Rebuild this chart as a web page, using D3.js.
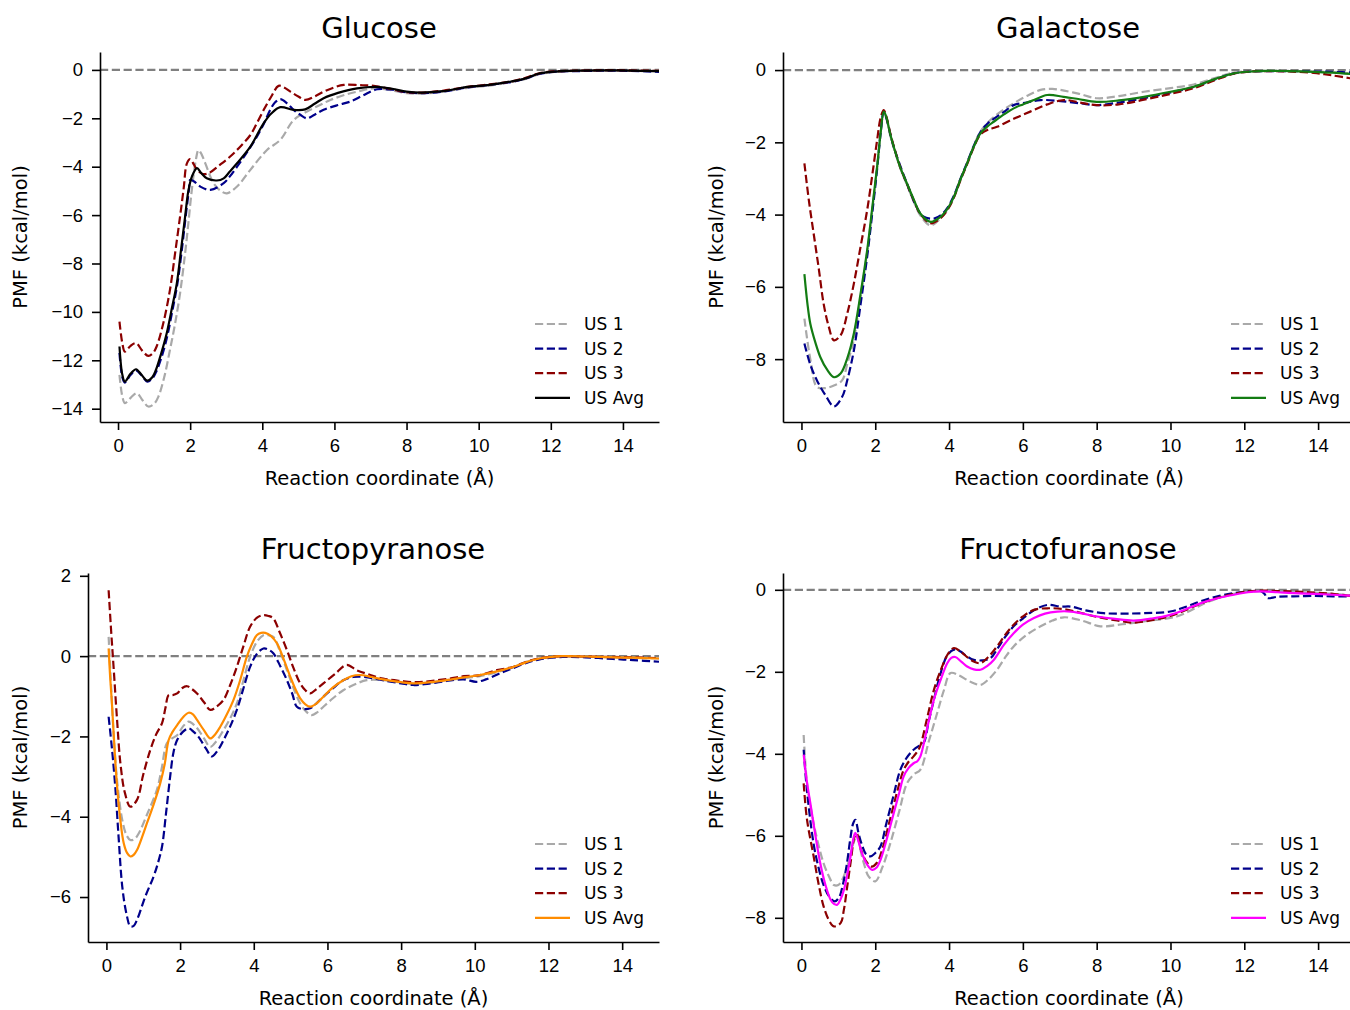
<!DOCTYPE html>
<html lang="en">
  <head>
    <meta charset="UTF-8" />
    <title>PMF curves</title>
    <style>
      body {
        margin: 0;
        background: #fff;
      }
      svg {
        display: block;
        font-family: "DejaVu Sans", sans-serif;
      }
      .axis path,
      .axis line {
        stroke: #000;
        stroke-width: 1.6;
      }
      .axis text {
        font-size: 18.5px;
        fill: #000;
      }
      .title {
        font-size: 29px;
      }
      .label {
        font-size: 19.5px;
      }
      .legend text {
        font-size: 17px;
      }
    </style>
    <script src="https://cdn.jsdelivr.net/npm/d3@7"></script>
  </head>
  <body>
    <div class="container"></div>
    <script>
      // ---- data ----
      const xTicks = [0, 2, 4, 6, 8, 10, 12, 14];
      const seriesNames = ["US 1", "US 2", "US 3", "US Avg"];

      const glucoseUS1 = [[0.04,-12.6],[0.12,-13.5],[0.19,-13.77],[0.35,-13.55],[0.52,-13.36],[0.68,-13.65],[0.84,-13.91],[1.0,-13.8],[1.12,-13.5],[1.28,-12.7],[1.44,-11.57],[1.58,-10.5],[1.72,-9.23],[1.85,-7.7],[1.95,-6.34],[2.02,-5.3],[2.09,-4.41],[2.16,-3.7],[2.23,-3.31],[2.32,-3.5],[2.42,-3.86],[2.65,-4.68],[2.85,-5.0],[3.02,-5.1],[3.3,-4.82],[3.67,-4.13],[4.13,-3.31],[4.5,-2.89],[4.87,-2.07],[5.24,-1.72],[5.6,-1.45],[5.89,-1.24],[6.25,-1.05],[6.63,-0.9],[7.09,-0.76],[7.6,-0.85],[8.0,-0.96],[8.4,-0.98],[9.0,-0.9],[9.7,-0.74],[10.3,-0.65],[10.9,-0.5],[11.3,-0.37],[11.7,-0.17],[12.2,-0.08],[12.7,-0.04],[13.5,-0.03],[14.2,-0.04],[15,-0.06]];
      const glucoseUS2 = [[0.04,-11.7],[0.12,-12.7],[0.19,-12.92],[0.35,-12.6],[0.5,-12.42],[0.65,-12.62],[0.81,-12.88],[0.95,-12.75],[1.05,-12.5],[1.2,-11.9],[1.35,-11.1],[1.5,-10.0],[1.65,-8.8],[1.78,-7.3],[1.88,-6.0],[1.97,-4.9],[2.0,-4.55],[2.1,-4.6],[2.28,-4.82],[2.56,-4.96],[2.93,-4.68],[3.1,-4.4],[3.3,-4.0],[3.6,-3.35],[3.85,-2.76],[4.05,-2.2],[4.22,-1.65],[4.35,-1.35],[4.5,-1.21],[4.7,-1.4],[4.87,-1.65],[5.05,-1.85],[5.24,-2.0],[5.45,-1.85],[5.7,-1.65],[6.1,-1.45],[6.44,-1.31],[6.8,-1.05],[7.19,-0.8],[7.6,-0.82],[8.0,-0.93],[8.4,-0.96],[9.0,-0.9],[9.7,-0.72],[10.3,-0.62],[10.9,-0.5],[11.3,-0.36],[11.7,-0.16],[12.2,-0.07],[12.7,-0.05],[13.5,-0.03],[14.2,-0.04],[15,-0.08]];
      const glucoseUS3 = [[0.04,-10.4],[0.12,-11.3],[0.19,-11.64],[0.35,-11.4],[0.5,-11.29],[0.67,-11.6],[0.84,-11.82],[0.97,-11.7],[1.07,-11.43],[1.25,-10.5],[1.44,-9.09],[1.58,-7.6],[1.72,-6.06],[1.82,-4.9],[1.91,-3.86],[2.0,-3.69],[2.1,-3.9],[2.19,-4.13],[2.35,-4.3],[2.51,-4.27],[2.8,-3.95],[3.11,-3.58],[3.4,-3.15],[3.67,-2.69],[3.85,-2.2],[4.04,-1.65],[4.25,-1.1],[4.45,-0.66],[4.6,-0.72],[4.78,-0.9],[5.0,-1.1],[5.19,-1.24],[5.45,-1.1],[5.7,-0.9],[6.0,-0.72],[6.26,-0.62],[6.7,-0.63],[7.09,-0.66],[7.6,-0.8],[8.0,-0.92],[8.4,-0.94],[9.0,-0.86],[9.7,-0.7],[10.3,-0.6],[10.9,-0.48],[11.3,-0.33],[11.7,-0.13],[12.2,-0.05],[12.7,-0.03],[13.5,-0.01],[14.2,-0.02],[15,-0.04]];
      const glucoseAvg = [[0.04,-11.43],[0.12,-12.6],[0.19,-12.88],[0.35,-12.55],[0.5,-12.37],[0.65,-12.6],[0.81,-12.84],[0.95,-12.7],[1.05,-12.4],[1.2,-11.7],[1.35,-10.88],[1.5,-9.8],[1.63,-8.82],[1.75,-7.4],[1.86,-6.06],[1.95,-5.0],[2.05,-4.4],[2.19,-4.06],[2.3,-4.25],[2.46,-4.48],[2.74,-4.57],[2.93,-4.48],[3.1,-4.2],[3.3,-3.86],[3.67,-3.17],[3.85,-2.7],[4.04,-2.2],[4.25,-1.8],[4.5,-1.54],[4.87,-1.65],[5.19,-1.63],[5.45,-1.4],[5.7,-1.17],[6.1,-0.95],[6.63,-0.76],[7.19,-0.7],[7.6,-0.78],[8.0,-0.9],[8.4,-0.94],[9.0,-0.88],[9.7,-0.7],[10.3,-0.62],[10.9,-0.48],[11.3,-0.35],[11.7,-0.14],[12.2,-0.06],[12.7,-0.03],[13.5,-0.02],[14.2,-0.03],[15,-0.05]];

      const galactoseUS1 = [[0.08,-6.88],[0.24,-8.0],[0.42,-8.77],[0.65,-8.8],[0.88,-8.73],[1.1,-8.59],[1.25,-8.1],[1.42,-7.45],[1.6,-6.3],[1.78,-5.05],[1.92,-3.85],[2.05,-2.7],[2.15,-1.72],[2.23,-1.17],[2.3,-1.32],[2.4,-1.78],[2.5,-2.15],[2.68,-2.72],[2.86,-3.18],[3.05,-3.65],[3.22,-4.02],[3.5,-4.3],[3.77,-4.1],[3.95,-3.88],[4.13,-3.52],[4.3,-3.05],[4.49,-2.57],[4.67,-2.1],[4.85,-1.7],[5.05,-1.45],[5.21,-1.3],[5.5,-1.08],[5.75,-0.92],[6.1,-0.72],[6.48,-0.55],[6.8,-0.52],[7.02,-0.55],[7.5,-0.65],[8.01,-0.78],[8.6,-0.72],[9.28,-0.6],[10.0,-0.5],[10.63,-0.4],[11.2,-0.22],[11.72,-0.07],[12.2,-0.03],[12.62,-0.02],[13.2,-0.02],[13.88,-0.04],[14.4,-0.06],[15,-0.1]];
      const galactoseUS2 = [[0.08,-7.57],[0.24,-8.15],[0.42,-8.59],[0.65,-9.0],[0.88,-9.31],[1.1,-9.05],[1.25,-8.55],[1.42,-7.76],[1.6,-6.5],[1.78,-5.17],[1.92,-3.95],[2.05,-2.75],[2.15,-1.7],[2.23,-1.15],[2.32,-1.4],[2.45,-1.95],[2.59,-2.4],[2.75,-2.85],[2.9,-3.25],[3.1,-3.75],[3.3,-4.05],[3.59,-4.11],[3.8,-4.0],[3.95,-3.82],[4.13,-3.48],[4.3,-3.03],[4.49,-2.56],[4.67,-2.1],[4.85,-1.72],[5.05,-1.47],[5.21,-1.35],[5.5,-1.15],[5.75,-0.97],[6.1,-0.9],[6.48,-0.83],[7.02,-0.86],[7.56,-0.92],[8.0,-0.97],[8.6,-0.9],[9.28,-0.78],[10.0,-0.62],[10.63,-0.47],[11.2,-0.26],[11.72,-0.09],[12.2,-0.04],[12.62,-0.03],[13.2,-0.03],[13.88,-0.04],[14.4,-0.05],[15,-0.07]];
      const galactoseUS3 = [[0.08,-2.58],[0.2,-3.6],[0.33,-4.52],[0.47,-5.5],[0.6,-6.46],[0.74,-7.1],[0.88,-7.48],[1.06,-7.34],[1.25,-6.7],[1.42,-5.91],[1.6,-4.9],[1.78,-3.88],[1.92,-2.9],[2.05,-1.94],[2.15,-1.3],[2.23,-1.11],[2.3,-1.28],[2.4,-1.72],[2.5,-2.1],[2.68,-2.7],[2.86,-3.15],[3.05,-3.62],[3.22,-3.98],[3.5,-4.24],[3.77,-4.1],[3.95,-3.88],[4.13,-3.53],[4.3,-3.07],[4.49,-2.6],[4.67,-2.14],[4.85,-1.78],[5.05,-1.65],[5.3,-1.57],[5.75,-1.35],[6.2,-1.15],[6.66,-0.95],[7.11,-0.83],[7.56,-0.9],[8.0,-0.97],[8.6,-0.95],[9.28,-0.82],[10.0,-0.66],[10.63,-0.5],[11.2,-0.28],[11.72,-0.1],[12.2,-0.04],[12.62,-0.03],[13.2,-0.04],[13.88,-0.08],[14.4,-0.15],[15,-0.25]];
      const galactoseAvg = [[0.08,-5.65],[0.16,-6.45],[0.24,-7.02],[0.38,-7.55],[0.51,-7.94],[0.7,-8.3],[0.88,-8.5],[1.06,-8.4],[1.25,-7.95],[1.42,-7.29],[1.6,-6.2],[1.78,-4.99],[1.92,-3.8],[2.05,-2.68],[2.15,-1.7],[2.23,-1.15],[2.3,-1.3],[2.4,-1.75],[2.5,-2.12],[2.68,-2.7],[2.86,-3.14],[3.05,-3.6],[3.22,-3.97],[3.5,-4.2],[3.77,-4.06],[3.95,-3.85],[4.13,-3.51],[4.3,-3.05],[4.49,-2.58],[4.67,-2.12],[4.85,-1.75],[5.05,-1.55],[5.21,-1.43],[5.5,-1.22],[5.75,-1.06],[6.0,-0.95],[6.3,-0.83],[6.66,-0.69],[7.1,-0.74],[7.5,-0.8],[8.0,-0.88],[8.6,-0.84],[9.28,-0.74],[10.0,-0.6],[10.63,-0.46],[11.2,-0.25],[11.72,-0.09],[12.2,-0.04],[12.62,-0.02],[13.2,-0.03],[13.88,-0.05],[14.4,-0.07],[15,-0.12]];

      const pyranoseUS1 = [[0.06,0.48],[0.13,-0.8],[0.2,-2.01],[0.3,-3.2],[0.43,-4.08],[0.54,-4.45],[0.65,-4.58],[0.77,-4.55],[0.88,-4.41],[1.1,-3.95],[1.37,-3.33],[1.5,-2.8],[1.64,-2.17],[1.78,-2.05],[1.92,-1.97],[2.08,-1.75],[2.23,-1.63],[2.36,-1.7],[2.5,-1.84],[2.65,-2.05],[2.82,-2.26],[3.0,-2.1],[3.18,-1.84],[3.36,-1.55],[3.54,-1.18],[3.72,-0.6],[3.9,-0.02],[4.08,0.35],[4.26,0.52],[4.4,0.52],[4.53,0.48],[4.72,0.1],[4.9,-0.35],[5.08,-0.8],[5.26,-1.18],[5.42,-1.38],[5.57,-1.47],[5.72,-1.4],[5.89,-1.26],[6.15,-1.05],[6.43,-0.85],[6.75,-0.7],[7.07,-0.6],[7.51,-0.6],[8.0,-0.66],[8.33,-0.69],[8.8,-0.66],[9.23,-0.6],[9.7,-0.55],[10.14,-0.5],[10.6,-0.4],[11.04,-0.28],[11.4,-0.15],[11.76,-0.06],[12.39,-0.01],[13.0,-0.02],[13.75,-0.03],[14.3,-0.04],[15,-0.06]];
      const pyranoseUS2 = [[0.06,-1.51],[0.15,-2.3],[0.24,-3.25],[0.33,-4.5],[0.43,-5.74],[0.54,-6.4],[0.65,-6.73],[0.74,-6.72],[0.83,-6.57],[1.05,-6.0],[1.28,-5.49],[1.4,-5.15],[1.51,-4.74],[1.62,-3.9],[1.73,-3.0],[1.82,-2.4],[1.92,-2.09],[2.08,-1.88],[2.23,-1.8],[2.36,-1.88],[2.5,-2.01],[2.7,-2.3],[2.86,-2.5],[3.02,-2.35],[3.18,-2.09],[3.36,-1.75],[3.54,-1.34],[3.72,-0.8],[3.9,-0.27],[4.08,0.05],[4.26,0.19],[4.4,0.16],[4.53,0.07],[4.72,-0.25],[4.9,-0.6],[5.05,-0.95],[5.17,-1.26],[5.35,-1.32],[5.53,-1.3],[5.7,-1.18],[5.89,-1.01],[6.15,-0.8],[6.43,-0.6],[6.7,-0.52],[7.0,-0.52],[7.5,-0.6],[8.0,-0.68],[8.33,-0.72],[8.8,-0.68],[9.23,-0.62],[9.7,-0.58],[10.04,-0.64],[10.3,-0.58],[10.7,-0.42],[11.04,-0.3],[11.4,-0.17],[11.76,-0.08],[12.39,-0.02],[13.0,-0.03],[13.75,-0.07],[14.3,-0.1],[15,-0.14]];
      const pyranoseUS3 = [[0.06,1.64],[0.13,0.6],[0.2,-0.35],[0.29,-1.6],[0.38,-2.67],[0.5,-3.4],[0.65,-3.75],[0.83,-3.58],[1.0,-2.95],[1.19,-2.34],[1.35,-1.95],[1.51,-1.67],[1.6,-1.3],[1.69,-0.97],[1.8,-0.97],[1.92,-0.93],[2.05,-0.8],[2.19,-0.75],[2.32,-0.82],[2.46,-0.93],[2.65,-1.15],[2.82,-1.34],[3.0,-1.25],[3.18,-1.09],[3.36,-0.72],[3.54,-0.27],[3.72,0.25],[3.9,0.73],[4.08,0.95],[4.26,1.02],[4.4,1.0],[4.53,0.94],[4.7,0.6],[4.9,0.15],[5.08,-0.3],[5.26,-0.68],[5.4,-0.85],[5.53,-0.93],[5.7,-0.82],[5.89,-0.68],[6.2,-0.45],[6.52,-0.22],[6.79,-0.35],[7.1,-0.45],[7.51,-0.56],[8.0,-0.62],[8.4,-0.65],[8.8,-0.62],[9.3,-0.56],[9.7,-0.5],[10.1,-0.48],[10.6,-0.35],[11.04,-0.27],[11.4,-0.14],[11.76,-0.05],[12.39,0],[13.0,-0.01],[13.75,-0.02],[14.3,-0.03],[15,-0.05]];
      const pyranoseAvg = [[0.06,0.19],[0.1,-0.5],[0.15,-1.18],[0.22,-2.3],[0.29,-3.25],[0.38,-4.1],[0.47,-4.66],[0.56,-4.9],[0.65,-4.99],[0.74,-4.95],[0.83,-4.83],[0.97,-4.5],[1.1,-4.16],[1.28,-3.7],[1.46,-3.17],[1.58,-2.7],[1.69,-2.09],[1.8,-1.88],[1.92,-1.72],[2.08,-1.52],[2.23,-1.41],[2.35,-1.45],[2.46,-1.59],[2.65,-1.85],[2.82,-2.05],[2.95,-1.95],[3.09,-1.76],[3.27,-1.45],[3.45,-1.09],[3.63,-0.6],[3.81,-0.02],[3.95,0.3],[4.08,0.52],[4.2,0.58],[4.31,0.58],[4.47,0.5],[4.63,0.32],[4.8,-0.05],[4.99,-0.51],[5.13,-0.82],[5.26,-1.05],[5.4,-1.2],[5.53,-1.26],[5.7,-1.18],[5.89,-1.01],[6.15,-0.78],[6.43,-0.6],[6.65,-0.5],[6.88,-0.47],[7.2,-0.52],[7.5,-0.58],[8.0,-0.65],[8.33,-0.68],[8.8,-0.65],[9.23,-0.6],[9.7,-0.53],[10.14,-0.47],[10.6,-0.38],[11.04,-0.27],[11.4,-0.15],[11.76,-0.06],[12.39,0],[13.0,-0.01],[13.75,-0.03],[14.3,-0.04],[15,-0.06]];

      const furanoseUS1 = [[0.06,-3.54],[0.15,-4.7],[0.33,-5.69],[0.47,-6.25],[0.6,-6.67],[0.74,-6.98],[0.88,-7.2],[1.0,-7.2],[1.1,-7.08],[1.24,-6.75],[1.37,-6.3],[1.44,-6.1],[1.51,-6.02],[1.6,-6.35],[1.7,-6.7],[1.82,-6.99],[2.0,-7.11],[2.2,-6.75],[2.41,-6.18],[2.65,-5.4],[2.86,-4.72],[3.05,-4.5],[3.22,-4.39],[3.45,-3.7],[3.68,-3.0],[3.86,-2.45],[4.04,-2.03],[4.25,-2.08],[4.49,-2.2],[4.67,-2.28],[4.85,-2.32],[5.05,-2.2],[5.3,-1.95],[5.52,-1.65],[5.75,-1.38],[6.1,-1.1],[6.48,-0.89],[6.8,-0.75],[7.11,-0.67],[7.6,-0.75],[8.1,-0.89],[8.7,-0.84],[9.28,-0.77],[10.17,-0.65],[10.6,-0.48],[10.9,-0.34],[11.3,-0.2],[11.72,-0.1],[12.1,-0.05],[12.44,-0.03],[12.9,-0.04],[13.34,-0.05],[13.9,-0.07],[14.4,-0.1],[15,-0.14]];
      const furanoseUS2 = [[0.06,-3.9],[0.15,-4.9],[0.33,-6.2],[0.47,-6.8],[0.6,-7.2],[0.75,-7.48],[0.9,-7.6],[1.02,-7.5],[1.12,-7.2],[1.22,-6.75],[1.32,-6.1],[1.4,-5.7],[1.46,-5.61],[1.55,-5.95],[1.65,-6.25],[1.75,-6.45],[1.87,-6.5],[2.0,-6.42],[2.14,-6.26],[2.3,-5.7],[2.5,-5.0],[2.68,-4.39],[2.85,-4.1],[3.04,-3.9],[3.2,-3.8],[3.31,-3.74],[3.45,-3.2],[3.59,-2.68],[3.75,-2.1],[3.95,-1.6],[4.13,-1.46],[4.3,-1.5],[4.48,-1.62],[4.67,-1.71],[4.9,-1.72],[5.12,-1.67],[5.3,-1.45],[5.52,-1.15],[5.75,-0.89],[6.0,-0.7],[6.3,-0.5],[6.66,-0.37],[7.02,-0.41],[7.3,-0.41],[7.7,-0.5],[8.19,-0.57],[8.7,-0.58],[9.28,-0.57],[9.99,-0.53],[10.4,-0.42],[10.81,-0.28],[11.3,-0.15],[11.72,-0.08],[12.1,-0.04],[12.44,-0.03],[12.55,-0.1],[12.62,-0.2],[12.9,-0.17],[13.34,-0.16],[13.9,-0.15],[14.4,-0.16],[15,-0.16]];
      const furanoseUS3 = [[0.06,-4.72],[0.15,-5.6],[0.33,-6.5],[0.47,-7.2],[0.6,-7.72],[0.74,-8.05],[0.88,-8.21],[1.06,-8.13],[1.15,-7.8],[1.24,-7.24],[1.34,-6.6],[1.44,-6.02],[1.5,-5.95],[1.6,-6.3],[1.75,-6.62],[1.9,-6.75],[2.05,-6.65],[2.2,-6.3],[2.4,-5.6],[2.6,-4.9],[2.77,-4.39],[2.9,-4.2],[3.05,-4.05],[3.2,-3.85],[3.4,-3.15],[3.59,-2.44],[3.8,-1.9],[3.98,-1.55],[4.13,-1.42],[4.3,-1.5],[4.49,-1.64],[4.67,-1.75],[4.85,-1.79],[5.05,-1.65],[5.3,-1.38],[5.52,-1.1],[5.75,-0.85],[6.0,-0.65],[6.3,-0.49],[6.7,-0.45],[7.11,-0.47],[7.56,-0.56],[8.01,-0.66],[8.5,-0.74],[9.0,-0.8],[9.5,-0.74],[9.99,-0.64],[10.4,-0.5],[10.81,-0.34],[11.3,-0.19],[11.72,-0.1],[12.1,-0.04],[12.44,-0.02],[12.9,-0.03],[13.34,-0.04],[13.9,-0.07],[14.4,-0.1],[15,-0.16]];
      const furanoseAvg = [[0.06,-4.02],[0.15,-4.7],[0.24,-5.2],[0.38,-6.0],[0.51,-6.67],[0.65,-7.2],[0.79,-7.56],[0.88,-7.66],[0.97,-7.68],[1.06,-7.55],[1.15,-7.32],[1.24,-6.95],[1.33,-6.5],[1.4,-6.1],[1.46,-5.93],[1.55,-6.15],[1.64,-6.42],[1.78,-6.7],[1.92,-6.83],[2.03,-6.78],[2.14,-6.59],[2.32,-6.05],[2.5,-5.45],[2.65,-4.95],[2.77,-4.55],[2.9,-4.35],[3.04,-4.23],[3.14,-4.18],[3.22,-4.07],[3.4,-3.4],[3.59,-2.68],[3.77,-2.2],[3.95,-1.79],[4.06,-1.66],[4.17,-1.64],[4.33,-1.75],[4.49,-1.87],[4.67,-1.94],[4.85,-1.95],[5.03,-1.86],[5.21,-1.71],[5.48,-1.35],[5.75,-1.06],[6.0,-0.85],[6.3,-0.69],[6.6,-0.58],[6.93,-0.53],[7.3,-0.53],[7.56,-0.57],[8.01,-0.65],[8.5,-0.71],[9.0,-0.75],[9.5,-0.7],[9.99,-0.61],[10.4,-0.48],[10.81,-0.33],[11.3,-0.2],[11.72,-0.12],[12.1,-0.06],[12.44,-0.04],[12.9,-0.06],[13.34,-0.08],[13.9,-0.1],[14.4,-0.12],[15,-0.15]];

      // ---- layout ----
      const width = 1350,
        height = 1010;

      const svg = d3
        .select(".container")
        .append("svg")
        .attr("width", width)
        .attr("height", height);

      const lw = 2.2;
      const dash = [8.2, 3.6];

      const panels = [
        {
          title: "Glucose",
          left: 100, right: 659, top: 52, bottom: 422, titleX: 379,
          yDomain: [-14.55, 0.74],
          yTicks: [-14, -12, -10, -8, -6, -4, -2, 0],
          series: [glucoseUS1, glucoseUS2, glucoseUS3, glucoseAvg],
          avgColor: "#000000",
        },
        {
          title: "Galactose",
          left: 783, right: 1355, top: 52, bottom: 422, titleX: 1068,
          yDomain: [-9.74, 0.5],
          yTicks: [-8, -6, -4, -2, 0],
          series: [galactoseUS1, galactoseUS2, galactoseUS3, galactoseAvg],
          avgColor: "#137c13",
        },
        {
          title: "Fructopyranose",
          left: 88, right: 659, top: 573, bottom: 942, titleX: 373,
          yDomain: [-7.12, 2.07],
          yTicks: [-6, -4, -2, 0, 2],
          series: [pyranoseUS1, pyranoseUS2, pyranoseUS3, pyranoseAvg],
          avgColor: "#ff8c00",
        },
        {
          title: "Fructofuranose",
          left: 783, right: 1355, top: 573, bottom: 942, titleX: 1068,
          yDomain: [-8.59, 0.41],
          yTicks: [-8, -6, -4, -2, 0],
          series: [furanoseUS1, furanoseUS2, furanoseUS3, furanoseAvg],
          avgColor: "#ff00ff",
        },
      ];

      function drawPanel(p) {
        const x = d3.scaleLinear().domain([-0.5, 15]).range([p.left, p.right]);
        const y = d3.scaleLinear().domain(p.yDomain).range([p.bottom, p.top]);
        const colors = ["#a9a9a9", "#00008b", "#8b0000", p.avgColor];
        const g = svg.append("g");

        // zero reference line
        g.append("line")
          .attr("x1", x(-0.5))
          .attr("x2", x(15))
          .attr("y1", y(0))
          .attr("y2", y(0))
          .attr("stroke", "#808080")
          .attr("stroke-width", lw)
          .attr("stroke-dasharray", dash.join(","));

        const line = d3
          .line()
          .x((d) => x(d[0]))
          .y((d) => y(d[1]))
          .curve(d3.curveCatmullRom.alpha(0.5));

        p.series.forEach((s, i) => {
          g.append("path")
            .datum(s)
            .attr("fill", "none")
            .attr("stroke", colors[i])
            .attr("stroke-width", lw)
            .attr("stroke-linejoin", "round")
            .attr("stroke-dasharray", i < 3 ? dash.join(",") : null)
            .attr("d", line);
        });

        // axes (left + bottom spines only)
        g.append("g")
          .attr("class", "axis")
          .attr("transform", "translate(0," + p.bottom + ")")
          .call(d3.axisBottom(x).tickValues(xTicks).tickSize(8).tickPadding(9).tickSizeOuter(0));

        g.append("g")
          .attr("class", "axis")
          .attr("transform", "translate(" + p.left + ",0)")
          .call(d3.axisLeft(y).tickValues(p.yTicks).tickFormat(d3.format("d")).tickSize(8).tickPadding(9).tickSizeOuter(0));

        const midX = (x(-0.5) + x(15)) / 2;

        g.append("text")
          .attr("class", "title")
          .attr("x", p.titleX)
          .attr("y", p.top - 14)
          .attr("text-anchor", "middle")
          .text(p.title);

        g.append("text")
          .attr("class", "label")
          .attr("x", midX)
          .attr("y", p.bottom + 63)
          .attr("text-anchor", "middle")
          .text("Reaction coordinate (Å)");

        g.append("text")
          .attr("class", "label")
          .attr("transform", "translate(" + (p.left > 500 ? 723 : 27) + "," + (p.top + p.bottom) / 2 + ") rotate(-90)")
          .attr("text-anchor", "middle")
          .text("PMF (kcal/mol)");

        // legend
        const legend = g
          .selectAll(".legend")
          .data(seriesNames)
          .enter()
          .append("g")
          .attr("class", "legend")
          .attr("transform", (d, i) => "translate(" + (p.right - 124) + "," + (p.bottom - 98 + i * 24.6) + ")");

        legend
          .append("line")
          .attr("x1", 0)
          .attr("x2", 35)
          .attr("stroke", (d, i) => colors[i])
          .attr("stroke-width", lw)
          .attr("stroke-dasharray", (d, i) => (i < 3 ? dash.join(",") : null));

        legend
          .append("text")
          .attr("x", 49)
          .attr("dy", "0.36em")
          .text((d) => d);
      }

      panels.forEach(drawPanel);
    </script>
  </body>
</html>
